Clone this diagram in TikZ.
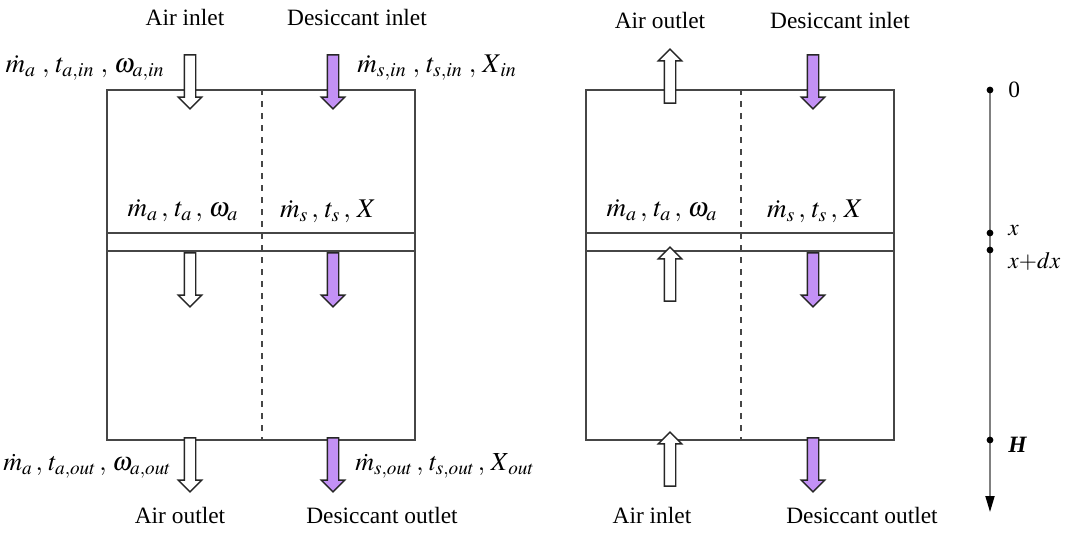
\documentclass[tikz,border=0pt]{standalone}
\usepackage{mathptmx}
\usepackage{fontspec}
\setmainfont{Liberation Serif}
\usetikzlibrary{shapes.arrows,arrows.meta,positioning}
\definecolor{solcolor}{RGB}{195,145,245}
\definecolor{framecolor}{RGB}{70,70,70}

\tikzset{
  channel/.style={draw=framecolor, line width=0.9pt, minimum width=154pt, minimum height=175pt, inner sep=0pt},
  flowarrow/.style={single arrow, draw=black!85, line width=0.7pt, fill=white,
    minimum height=27pt, inner sep=2.5pt, single arrow head extend=3pt,
    single arrow tip angle=90, single arrow head indent=0pt},
  solarrow/.style={flowarrow, fill=solcolor},
  down/.style={rotate=-90},
  up/.style={rotate=90},
  lbl/.style={inner sep=1pt},
  mathlbl/.style={inner sep=1pt, font=\fontsize{13.5}{16}\selectfont},
  outlbl/.style={inner sep=1pt, font=\fontsize{13}{16}\selectfont},
}

\begin{document}
\begin{tikzpicture}[x=0.5pt, y=-0.5pt, font=\fontsize{11.7}{14}\selectfont]
\useasboundingbox (0,0) rectangle (1066,534);

% ================= LEFT: CO-CURRENT =================
\node[channel] (lbox) at (261,265) {};
\draw[dashed, framecolor, line width=0.8pt] (lbox.north -| 262,0) -- (lbox.south -| 262,0);
\draw[framecolor, line width=0.9pt] (lbox.west |- 0,233) -- (lbox.east |- 0,233);
\draw[framecolor, line width=0.9pt] (lbox.west |- 0,251) -- (lbox.east |- 0,251);

% arrows
\node[flowarrow, down] (la1) at (190,79) {};
\node[solarrow, down]  (ls1) at (333,79) {};
\node[flowarrow, down] (la2) at (190,277) {};
\node[solarrow, down]  (ls2) at (333,277) {};
\node[flowarrow, down] (la3) at (190,462) {};
\node[solarrow, down]  (ls3) at (333,462) {};

% labels
\node[lbl] (lairin) at (185,18) {Air inlet};
\node[lbl] (lsolin) at (357,18) {Desiccant inlet};
\node[mathlbl, anchor=east] (lstatein) at (167,68) {$\dot{m}_{a}\;,\, t_{a,in}\;,\, \omega_{a,in}$};
\node[mathlbl, anchor=west] (lsolstatein) at (355,68) {$\dot{m}_{s,in}\;,\, t_{s,in}\;,\, X_{\,in}$};
\node[mathlbl] (lstate) at (183,211) {$\dot{m}_{a}\,,\, t_{a}\,,\, \omega_{a}$};
\node[mathlbl] (lsolstate) at (328,211) {$\dot{m}_{s}\,,\, t_{s}\,,\, X$};
\node[outlbl, anchor=east] (lstateout) at (174,466) {$\dot{m}_{a}\,,\, t_{a,out}\,,\, \omega_{a,out}$};
\node[outlbl, anchor=west] (lsolstateout) at (353,466) {$\dot{m}_{s,out}\,,\, t_{s,out}\,,\, X_{\,out}$};
\node[lbl] (lairout) at (180,515) {Air outlet};
\node[lbl] (lsolout) at (382,515) {Desiccant outlet};

% ================= RIGHT: COUNTER-FLOW =================
\node[channel] (rbox) at (740,265) {};
\draw[dashed, framecolor, line width=0.8pt] (rbox.north -| 741,0) -- (rbox.south -| 741,0);
\draw[framecolor, line width=0.9pt] (rbox.west |- 0,233) -- (rbox.east |- 0,233);
\draw[framecolor, line width=0.9pt] (rbox.west |- 0,251) -- (rbox.east |- 0,251);

% arrows
\node[flowarrow, up]   (ra1) at (670,79) {};
\node[solarrow, down]  (rs1) at (813,79) {};
\node[flowarrow, up]   (ra2) at (670,277) {};
\node[solarrow, down]  (rs2) at (813,277) {};
\node[flowarrow, up]   (ra3) at (670,462) {};
\node[solarrow, down]  (rs3) at (813,462) {};

% labels
\node[lbl] (rairout) at (660,20) {Air outlet};
\node[lbl] (rsolin) at (840,20) {Desiccant inlet};
\node[mathlbl] (rstate) at (662,211) {$\dot{m}_{a}\,,\, t_{a}\,,\, \omega_{a}$};
\node[mathlbl] (rsolstate) at (815,211) {$\dot{m}_{s}\,,\, t_{s}\,,\, X$};
\node[lbl] (rairin) at (652,515) {Air inlet};
\node[lbl] (rsolout) at (862,515) {Desiccant outlet};

% ================= HEIGHT AXIS =================
\coordinate (h0) at (990,90);
\coordinate (hx) at (990,233);
\coordinate (hdx) at (990,250);
\coordinate (hH) at (990,440);
\coordinate (hend) at (990,512);
\draw[gray, line width=0.9pt, -{Triangle[length=8pt, width=4.5pt, black]}] (h0) -- (hend);
\foreach \p in {h0,hx,hdx,hH} \fill (\p) circle (1.7pt);
\node[lbl, anchor=west] (lab0) at (1006,90) {0};
\node[lbl, anchor=west] (labx) at (1006,231) {$x$};
\node[lbl, anchor=west] (labdx) at (1006,261) {$x{+}dx$};
\node[lbl, anchor=west] (labH) at (1006,445) {\textbf{\textit{H}}};

\end{tikzpicture}
\end{document}
